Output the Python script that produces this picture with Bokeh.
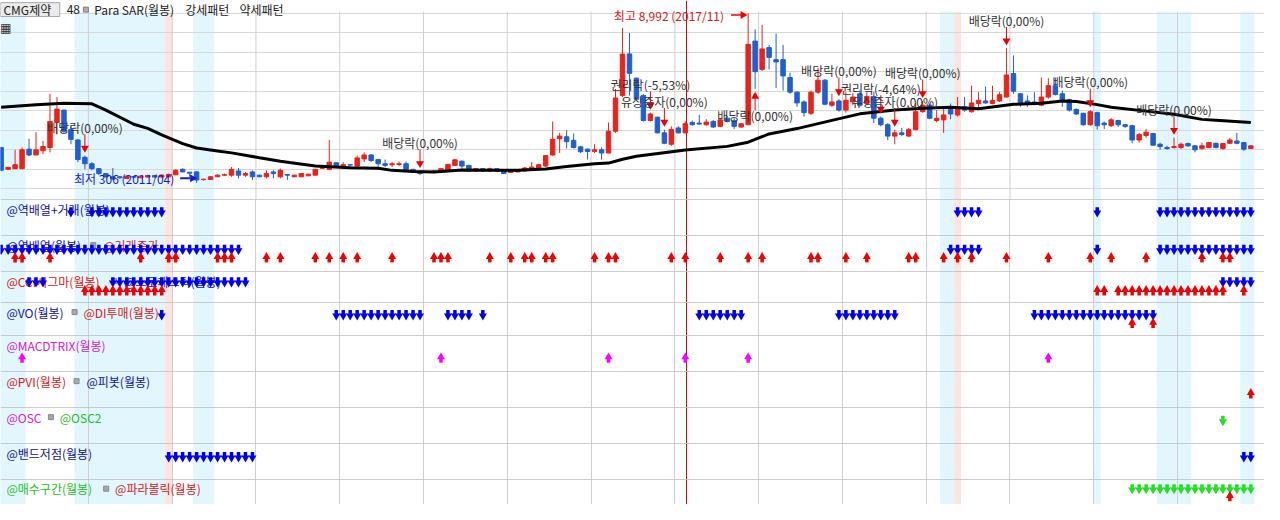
import math
from bokeh.plotting import figure
from bokeh.layouts import column
from bokeh.models import Range1d
from bokeh.core.properties import value
from bokeh.embed import file_html
from bokeh.resources import INLINE

# ---------------- data ----------------
START_YEAR, START_MONTH = 2008, 12   # index 0 = 2008/12, monthly candles

opens = [2117,1000,1033,1033,2033,1733,1950,2117,3400,4033,3033,2500,1617,1283,1033,783,617,617,533,617,
         567,600,683,600,617,717,1000,850,867,470,480,617,700,700,917,700,867,700,617,867,
         617,733,617,617,667,700,1050,1000,1333,1167,1233,1167,1533,1733,1500,1283,1233,1250,1283,1000,
         900,850,833,900,917,1200,1417,1200,917,1033,917,1033,950,833,867,917,1000,1033,1167,1733,
         2567,2667,2483,2150,2033,1917,2000,1833,2950,4783,6911,5668,4783,3500,3667,2867,2283,3117,2867,3400,
         3367,3283,3450,3200,3617,3483,3167,3283,7567,6117,7233,6617,6617,5700,4950,4450,3867,4950,5567,4283,
         4500,4033,4450,4867,4367,4733,3617,3283,2700,2867,2700,3033,3950,4283,3500,3533,4067,3783,4200,3950,
         4367,4500,4367,4500,4700,5900,4867,4500,4450,4283,4700,5283,4867,4567,4067,3867,3283,3900,3367,3233,
         3500,3283,3233,2500,2733,2833,2283,2117,2117,2117,2317,2200,2067,2117,2333,2067,2333,2450,2367,2067]
highs = [2150,1120,2000,2117,2567,2900,2450,4867,4700,4050,3200,2567,1700,1367,1067,800,1067,650,680,650,
         700,720,700,750,783,1000,1050,867,900,520,630,750,780,1117,1067,867,950,720,950,950,
         1033,750,720,800,770,1020,1120,2500,1367,1367,1250,1700,1867,1783,1533,1500,1367,1400,1400,1020,
         917,900,950,1067,1283,1533,1450,1233,1050,1050,1083,1050,970,930,970,1117,1367,1283,1733,3450,
         2867,3000,2833,2200,2067,2283,2117,3400,5117,8233,7990,5700,4850,3900,3700,3033,3200,3200,3450,3500,
         3783,3567,3533,3617,3733,3617,3367,8992,8167,8400,7367,7950,7367,5950,5000,4533,5033,6200,5617,4867,
         4600,4950,4900,5033,4950,4950,3700,3367,3033,3117,3117,4367,4500,4367,4033,4200,4367,4700,4700,5283,
         4950,5233,5283,4950,7200,6833,4900,4783,4950,5700,5667,5700,5033,4617,4117,3900,4033,3950,3450,3617,
         3533,3317,3283,2867,3067,2867,2367,2200,2617,2367,2367,2233,2367,2400,2367,2367,2617,2867,2400,2233]
lows = [900,980,1000,1000,1667,1733,1783,1867,2783,2867,2283,1367,1000,950,700,583,450,520,500,560,
        540,580,580,580,600,700,850,617,306,420,460,600,650,617,533,617,450,600,533,533,
        533,450,600,600,650,680,1030,950,1067,1067,1150,1117,1367,1367,1117,1117,1117,1167,900,880,
        700,830,800,867,900,1167,1033,900,900,900,867,880,760,820,850,867,950,1000,1117,1700,
        1833,2067,2067,1833,1500,1833,1500,1833,2867,4700,4773,4550,3450,3450,2833,2283,2200,2833,2833,3233,
        3283,3233,3117,3167,3400,3067,3117,3283,5117,6033,6117,5167,5033,4867,4200,3700,3783,4867,4283,4200,
        3950,3900,4283,4200,4283,3367,3200,2500,2283,2700,2667,3000,3900,3567,3400,2867,3567,3700,3950,3900,
        4033,4367,4333,4450,4700,4867,4200,4200,4283,4233,4617,4783,4200,3950,3783,3233,3233,3033,3067,3167,
        3167,3117,2333,2367,2617,2200,2000,2000,2067,2033,2150,1867,2000,2067,2067,2000,2283,2283,1950,2033]
closes = [950,1100,1233,2000,1733,2000,2167,3450,4083,2950,2533,1500,1283,1033,783,617,533,567,650,600,
          650,683,600,700,733,950,867,800,450,490,617,700,720,1000,700,783,617,617,783,783,
          950,700,700,783,750,1000,1083,1367,1117,1233,1217,1583,1733,1450,1283,1200,1283,1283,950,900,
          783,867,917,1033,1250,1483,1167,917,1033,917,1033,900,783,917,950,1067,1117,1233,1700,2533,
          2700,2417,2117,1900,1917,2000,1833,2950,4650,6900,5917,4590,3500,3833,2867,2333,3033,2867,3333,3283,
          3317,3417,3167,3533,3450,3200,3333,7400,6000,7167,6733,6500,5783,4950,4400,3900,4950,5567,4333,4450,
          4033,4533,4700,4283,4733,3617,3283,2700,2867,2783,3033,3950,4283,3617,3617,3783,3833,4117,4033,4400,
          4533,4400,4533,4817,5833,5000,4400,4333,4367,4700,5283,4833,4500,4033,3833,3283,3950,3233,3283,3533,
          3283,3200,2500,2783,2900,2233,2167,2067,2167,2283,2200,2000,2200,2367,2117,2317,2500,2333,2033,2200]

# moving-average line (candle index, price)
ma_idx = [0,5,9,13,15,19,21,23,26,28,31,33,37,40,45,50,54,56,59,62,66,70,74,78,81,85,87,89,91,98,
          104,107,110,114,119,123,128,132,136,140,145,149,152,154,157,159,164,168,172,174,179]
ma_val = [4179,4303,4378,4353,4030,3308,3099,2761,2313,2090,1940,1841,1592,1408,1169,1080,1055,945,886,861,
          970,955,945,1020,1144,1279,1318,1517,1667,1990,2174,2388,2811,3085,3507,3840,4040,4129,4179,4104,
          4328,4378,4502,4478,4313,4179,3980,3816,3557,3517,3398]

price_grid = [0, 1000, 2000, 3000, 4000, 5000, 6000, 7000, 8000, 9000]

blue_bands = [(0, 3), (11, 23), (28, 30), (135, 136), (157, 157), (166, 170), (178, 179)]
pink_bands = [(24, 24), (137, 137)]
cursor_x = 98.2

events = [(12, "배당락(0,00%)", "down"), (60, "배당락(0,00%)", "down"),
          (93, "권리락(-5,53%)", "down"), (95, "유상증자(0,00%)", "down"),
          (108, "배당락(0,00%)", "up"), (120, "배당락(0,00%)", "down"),
          (126, "권리락(-4,64%)", "down"), (128, "유상증자(0,00%)", "down"),
          (132, "배당락(0,00%)", "down"), (144, "배당락(0,00%)", "down"),
          (156, "배당락(0,00%)", "down"), (168, "배당락(0,00%)", "down")]

# signal panels (runs of candle indices)
sig_p1_down = [10, (13, 23), (137, 140), 157, (166, 179)]
sig_p2_down = [(0, 34), (136, 140), 157, (166, 179)]
sig_p2_up = [2, 3, 7, 20, 24, 25, 31, 32, 33, 38, 40, 45, 47, 49, 51, 56, 62, 63, 64, 70, 73, 75, 76, 78, 79,
             85, 87, 88, 96, 98, 103, 107, 109, 116, 117, 121, 124, 130, 131, 135, 137, 139, 144, 150, 156,
             159, 164, 172, 175, 176]
sig_p3_down = [(4, 6), (16, 35), (175, 179)]
sig_p3_up = [(12, 23), (157, 158), (160, 175), 178]
sig_p4_down = [23, (48, 60), (64, 67), 69, (100, 106), (120, 128), (148, 165)]
sig_p4_up = [162, 165]
sig_p5_up = [3, 63, 87, 98, 107, 150]
sig_p6_up = [179]
sig_p7_down = [175]
sig_p8_down = [(24, 36), (178, 179)]
sig_p9_down = [(162, 179)]
sig_p9_up = [176]

# ---------------- styling ----------------
FONT = value("Noto Sans CJK KR")
C_UP = "#e8231a"
C_DN = "#1f5fd0"
C_LBLUE = "#e2f6fd"
C_PINK = "#fde4df"
C_GRID = "#d8d8d8"
C_VGRID = "#cfcfcf"
C_SEP = "#9c9c9c"
C_CURSOR = "#e00000"
A_BLUE, A_RED, A_MAG, A_GREEN = "#0000f0", "#f00000", "#ff00ff", "#22e022"
T_BLUE, T_RED, T_MAG, T_GREEN = "#10109a", "#d42020", "#d020d0", "#22c022"

W = 1264
REF_W = 1280
STEP = 7.07      # reference px per month
X0 = 0.63        # reference px of candle 0
PX = 49.72       # price per reference px in main panel


def rx(px):
    return (px - X0) / STEP


def py(refy):
    return (194 - refy) * PX


def expand(runs):
    out = []
    for r in runs:
        if isinstance(r, tuple):
            out.extend(range(r[0], r[1] + 1))
        else:
            out.append(r)
    return out


n = len(opens)
idx = list(range(n))
year_lines = [i - 0.5 for i in idx if (START_MONTH - 1 + i) % 12 == 0 and i > 1]
x_range = Range1d(rx(0), rx(REF_W))

ref_h = [205, 37, 37, 32, 34, 37, 37, 37, 37, 27]
out_h = [199, 36, 36, 31, 33, 36, 36, 36, 36, 25]


def make_fig(h, yr):
    f = figure(width=W, height=h, x_range=x_range, y_range=yr, x_axis_type=None, y_axis_type=None,
               toolbar_location=None, output_backend="svg", min_border=0, outline_line_color=None)
    f.background_fill_color = "white"
    f.border_fill_color = "white"
    return f


def bands(f, bottom, top):
    f.quad(left=[a - 0.5 for a, b in blue_bands], right=[b + 0.5 for a, b in blue_bands],
           bottom=bottom, top=top, fill_color=C_LBLUE, line_color=None)
    f.quad(left=[a - 0.5 for a, b in pink_bands], right=[b + 0.5 for a, b in pink_bands],
           bottom=bottom, top=top, fill_color=C_PINK, line_color=None)


# ---------------- main panel ----------------
BAND_TOP = py(11.7)
main = make_fig(out_h[0], Range1d(py(ref_h[0]), py(0)))
bands(main, py(ref_h[0]) - 100, BAND_TOP)
main.hspan(y=price_grid, line_color=C_GRID, line_width=1)
main.segment(x0=year_lines, y0=py(ref_h[0]) - 100, x1=year_lines, y1=BAND_TOP, line_color=C_VGRID, line_width=1)
main.vspan(x=[cursor_x], line_color=C_CURSOR, line_width=1)

cols = [C_UP if c >= o else C_DN for o, c in zip(opens, closes)]
main.segment(x0=idx, y0=lows, x1=idx, y1=highs, line_color=cols, line_width=1)
main.vbar(x=idx, width=0.64, top=[max(o, c) for o, c in zip(opens, closes)],
          bottom=[min(o, c) for o, c in zip(opens, closes)], fill_color=cols, line_color=cols, line_width=1)

main.line(x=ma_idx, y=ma_val, line_color="black", line_width=3)

# corporate-event annotations
GAP, ALEN, LOFF, LOFF_UP = 3 * PX, 19 * PX, 7 * PX, 5.5 * PX
for i, txt, d in events:
    if d == "down":
        tip = highs[i] + GAP
        end = tip + ALEN
        ly = end + LOFF
        head_y = tip + 4.7 * PX
        mk = "inverted_triangle"
    else:
        tip = lows[i] - GAP
        end = tip - ALEN
        ly = end - LOFF_UP
        head_y = tip - 4.7 * PX
        mk = "triangle"
    main.text(x=[i], y=[ly], text=[txt], text_font=FONT, text_font_size="12px", text_color="#333333",
              text_align="center", text_baseline="middle")
    main.segment(x0=[i], y0=[head_y], x1=[i], y1=[end], line_color=A_RED, line_width=1)
    main.scatter(x=[i], y=[head_y], marker=mk, size=8, fill_color=A_RED, line_color=None)

hi = max(idx, key=lambda k: highs[k])
lo = min(idx, key=lambda k: lows[k])


def ym(i):
    m = START_MONTH - 1 + i
    return START_YEAR + m // 12, m % 12 + 1


hy, hm = ym(hi)
ly_, lm = ym(lo)
main.text(x=[hi - 3.45], y=[highs[hi] - 1.8 * PX], text=[f"최고 {highs[hi]:,} ({hy}/{hm:02d})"],
          text_font=FONT, text_font_size="12px", text_color="#d42020", text_align="right", text_baseline="middle")
main.segment(x0=[hi - 2.45], y0=[highs[hi] - 1.8 * PX], x1=[hi - 1.0], y1=[highs[hi] - 1.8 * PX],
             line_color=A_RED, line_width=1.5)
main.scatter(x=[hi - 0.75], y=[highs[hi] - 1.8 * PX], marker="triangle", angle=-math.pi / 2, size=8,
             fill_color=A_RED, line_color=None)

main.text(x=[lo - 3.2], y=[lows[lo] + 4.8 * PX], text=[f"최저 {lows[lo]:,} ({ly_}/{lm:02d})"],
          text_font=FONT, text_font_size="12px", text_color="#1a1acc", text_align="right", text_baseline="middle")
main.segment(x0=[lo - 2.35], y0=[lows[lo] + 4.8 * PX], x1=[lo - 0.9], y1=[lows[lo] + 4.8 * PX],
             line_color="#1a1acc", line_width=2)
main.scatter(x=[lo - 0.6], y=[lows[lo] + 4.8 * PX], marker="triangle", angle=-math.pi / 2, size=8,
             fill_color="#1a1acc", line_color=None)

# header row
HEAD_Y = py(9.4)
main.quad(left=[rx(0)], right=[rx(60)], bottom=[py(16.5)], top=[py(2.2)], fill_color="#ebebeb",
          line_color="#a8a8a8", line_width=1)
for t, x in [("CMG제약", 3), ("48", 67), ("Para SAR(월봉)", 95), ("강세패턴", 187), ("약세패턴", 242)]:
    main.text(x=[rx(x)], y=[HEAD_Y], text=[t], text_font=FONT, text_font_size="12px", text_color="#222222",
              text_align="left", text_baseline="middle")
main.scatter(x=[rx(86.5)], y=[HEAD_Y], marker="square", size=5, fill_color="#b0b0b0", line_color="#808080")
main.text(x=[rx(-0.5)], y=[py(28)], text=["▦"], text_font=value("DejaVu Sans"), text_font_size="12px",
          text_color="#333333", text_align="left", text_baseline="middle")

# ---------------- signal panels ----------------
panels = [
    dict(labels=[("@역배열+거래(월봉)", 6, T_BLUE)], squares=[],
         sigs=[(sig_p1_down, 12.5, False, A_BLUE)]),
    dict(labels=[("@역배열(월봉)", 6, T_BLUE), ("@거래증가", 104, T_RED)], squares=[94],
         sigs=[(sig_p2_down, 14.2, False, A_BLUE), (sig_p2_up, 23, True, A_RED)]),
    dict(labels=[("@CCI시그마(월봉)", 6, T_RED), ("@스토캐스틱(월봉)", 125, T_BLUE)], squares=[115],
         sigs=[(sig_p3_down, 10.5, False, A_BLUE), (sig_p3_up, 20, True, A_RED)]),
    dict(labels=[("@VO(월봉)", 6, T_BLUE), ("@DI투매(월봉)", 84, T_RED)], squares=[75],
         sigs=[(sig_p4_down, 12.5, False, A_BLUE), (sig_p4_up, 21.7, True, A_RED)]),
    dict(labels=[("@MACDTRIX(월봉)", 6, T_MAG)], squares=[],
         sigs=[(sig_p5_up, 23.3, True, A_MAG)]),
    dict(labels=[("@PVI(월봉)", 6, T_RED), ("@피봇(월봉)", 87, T_BLUE)], squares=[77],
         sigs=[(sig_p6_up, 23, True, A_RED)]),
    dict(labels=[("@OSC", 6, T_MAG), ("@OSC2", 60, T_GREEN)], squares=[51],
         sigs=[(sig_p7_down, 13.2, False, A_GREEN)]),
    dict(labels=[("@밴드저점(월봉)", 6, T_BLUE)], squares=[],
         sigs=[(sig_p8_down, 13.5, False, A_BLUE)]),
    dict(labels=[("@매수구간(월봉)", 6, T_GREEN), ("@파라볼릭(월봉)", 116, T_RED)], squares=[107],
         sigs=[(sig_p9_down, 9.8, False, A_GREEN), (sig_p9_up, 18.7, True, A_RED)]),
]


def block_arrows(f, runs, level, up, color):
    xs = expand(runs)
    k = len(xs)
    if up:
        f.rect(x=xs, y=[level + 2.6] * k, width=3.5, height=4, width_units="screen", height_units="screen",
               fill_color=color, line_color=None)
        f.scatter(x=xs, y=[level - 1.2] * k, marker="triangle", size=8, fill_color=color, line_color=None)
    else:
        f.rect(x=xs, y=[level - 2.6] * k, width=3.5, height=4, width_units="screen", height_units="screen",
               fill_color=color, line_color=None)
        f.scatter(x=xs, y=[level + 1.2] * k, marker="inverted_triangle", size=8, fill_color=color, line_color=None)


figs = [main]
LABEL_Y = 9.9
for k, spec in enumerate(panels):
    h = ref_h[k + 1]
    f = make_fig(out_h[k + 1], Range1d(h, 0))
    bands(f, h + 5, -5)
    f.vspan(x=year_lines, line_color=C_VGRID, line_width=1)
    f.vspan(x=[cursor_x], line_color=C_CURSOR, line_width=1)
    f.hspan(y=[0.5], line_color=C_SEP, line_width=1)
    for t, x, c in spec["labels"]:
        f.text(x=[rx(x)], y=[LABEL_Y], text=[t], text_font=FONT, text_font_size="12px", text_color=c,
               text_align="left", text_baseline="middle")
    if spec["squares"]:
        f.scatter(x=[rx(s) for s in spec["squares"]], y=[LABEL_Y] * len(spec["squares"]), marker="square",
                  size=5, fill_color="#a8a8a8", line_color="#888888")
    for runs, level, up, color in spec["sigs"]:
        block_arrows(f, runs, level, up, color)
    figs.append(f)

layout = column(*figs, spacing=0)
open("out.html", "w").write(file_html(layout, INLINE))
